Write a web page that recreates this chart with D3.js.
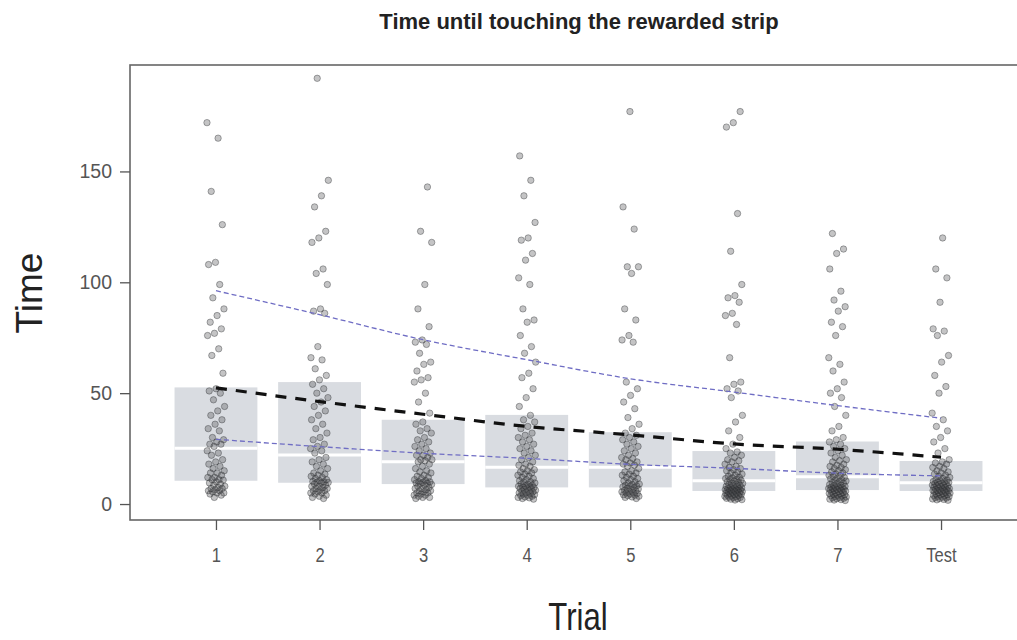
<!DOCTYPE html>
<html>
<head>
<meta charset="utf-8">
<script src="https://cdn.jsdelivr.net/npm/d3@7"></script>
<style>
  body { margin: 0; background: #fff; }
  text { font-family: "Liberation Sans", Arial, sans-serif; }
</style>
</head>
<body>
<script>
// 数据
var trials = ["1", "2", "3", "4", "5", "6", "7", "Test"];

var times_1 = [172, 165, 141, 126, 109, 108, 99, 93, 88, 85, 82, 79, 77, 76, 70, 67, 59,
  52, 51, 50, 47, 44, 42, 40, 38, 36, 34, 33, 30, 29, 28, 27, 27, 26,
  24, 23, 22, 20, 19, 18, 17, 16, 15, 14, 14, 13, 12, 12, 11, 11, 10.8,
  10, 9.5, 9, 8.5, 8, 7.5, 7, 7, 6.5, 6, 6, 5.5, 5, 5, 4.5, 4, 3];
var times_2 = [192, 146, 139, 134, 123, 120, 118, 106, 104, 99, 88, 87, 86, 71, 66, 65, 61, 58, 56,
  54, 52, 50, 48, 46, 44, 42, 40, 38, 36, 34, 32, 30, 29, 27, 26, 25, 24, 23,
  21, 20, 19, 18, 17, 16, 15, 14, 13.5, 13, 12.5, 12, 11.5, 11, 10.5, 10.2, 10, 9.8, 9.7,
  9.5, 9, 8.5, 8, 8, 7.5, 7, 7, 6.5, 6, 6, 5.5, 5, 5, 4.5, 4, 3.5, 3, 2.5];
var times_3 = [143, 123, 118, 99, 88, 80, 74, 73, 72, 68, 64, 63, 60, 57, 56, 55, 50, 46, 41,
  37, 36, 34, 33, 32, 30, 29, 28, 27, 26, 25, 24, 23, 22, 22, 21, 20, 20, 19.5,
  19, 18, 17, 16, 15, 14.5, 14, 13, 12.5, 12, 11.5, 11, 10.5, 10, 10, 9.8, 9.5, 9.3, 9.1,
  8.8, 8.5, 8, 7.5, 7, 7, 6.5, 6, 6, 5.5, 5, 5, 4.5, 4, 4, 3.5, 3, 3, 2.5];
var times_4 = [157, 146, 139, 127, 120, 119, 113, 110, 102, 99, 88, 83, 82, 76, 71, 68, 64, 59, 57, 52, 48, 44,
  40, 38, 37, 35, 34, 32, 31, 30, 29, 28, 27, 26, 25, 24, 23, 22, 21, 20, 19, 18, 17.5, 17,
  16, 15.5, 15, 14.5, 14, 13.5, 13, 12.5, 12, 11.5, 11, 10.5, 10, 10, 9.5, 9, 9, 8.5, 8.2, 8, 7.8, 7.6,
  7.4, 7.2, 7, 6.8, 6.5, 6.2, 6, 5.8, 5.5, 5.2, 5, 4.8, 4.5, 4.2, 4, 3.8, 3.5, 3.2, 3, 2.8, 2.5, 2.2];
var times_5 = [177, 134, 124, 107, 107, 104, 88, 83, 76, 74, 73, 55, 52, 49, 46, 43, 39, 36, 34,
  32, 31, 30, 29, 28, 27, 26, 25, 24, 23, 22, 21, 20.5, 20, 19, 18.5, 18, 17.5, 17,
  16, 15, 14.5, 14, 13.5, 13, 12.5, 12, 11.5, 11, 10.5, 10, 9.5, 9, 8.8, 8.5, 8.2, 8, 7.7,
  7.3, 7, 6.8, 6.5, 6.2, 6, 5.8, 5.5, 5.2, 5, 4.8, 4.5, 4.2, 4, 3.8, 3.5, 3.2, 3, 2.5];
var times_6 = [177, 172, 170, 131, 114, 99, 94, 93, 91, 86, 85, 81, 66, 55, 54, 52, 51, 48, 40, 37, 33, 30, 27, 25,
  23.5, 23, 22, 21, 20, 19.5, 19, 18, 17, 16.5, 16, 15.5, 15, 14.5, 14, 13.5, 13, 12.5, 12, 11.8, 11.5, 11.2, 11, 10.7,
  10.3, 10, 9.8, 9.5, 9.3, 9, 8.8, 8.5, 8.3, 8, 7.8, 7.5, 7.3, 7.1, 7, 6.8, 6.6, 6.5, 6.4, 6.3, 6.2, 6.1, 6, 6,
  5.8, 5.6, 5.5, 5.3, 5.1, 5, 4.8, 4.6, 4.5, 4.3, 4.1, 4, 3.8, 3.6, 3.5, 3.3, 3.1, 3, 2.8, 2.6, 2.4, 2.2, 2, 1.8];
var times_7 = [122, 115, 113, 106, 96, 92, 89, 87, 82, 80, 76, 66, 63, 60, 55, 52, 50, 48, 44, 40, 35, 33, 30, 29,
  28, 27, 26, 25, 24, 23, 22, 21, 20, 19.5, 19, 18, 17.5, 17, 16.5, 16, 15.5, 15, 14.5, 14, 13.5, 13, 12.8, 12.5,
  12, 11.7, 11.4, 11, 10.7, 10.4, 10, 9.7, 9.4, 9.1, 8.8, 8.5, 8.3, 8, 7.8, 7.6, 7.4, 7.2, 7, 6.9, 6.8, 6.6, 6.5, 6.4,
  6.2, 6, 5.8, 5.6, 5.4, 5.2, 5, 4.8, 4.6, 4.4, 4.2, 4, 3.8, 3.6, 3.4, 3.2, 3, 2.8, 2.6, 2.4, 2.2, 2, 1.8, 1.6];
var times_test = [120, 106, 102, 91, 79, 78, 76, 67, 64, 58, 53, 50, 41, 38, 35, 33, 30, 28, 25, 23, 20,
  19, 18.5, 18, 17, 16.5, 16, 15, 14.5, 14, 13.5, 13, 12.5, 12, 11.5, 11, 10.8, 10.5, 10.2, 10, 9.8, 9.7,
  9.4, 9.2, 9, 8.8, 8.6, 8.4, 8.2, 8, 7.8, 7.6, 7.4, 7.2, 7, 6.8, 6.6, 6.4, 6.2, 6.1, 6, 6, 5.9,
  5.7, 5.5, 5.3, 5.1, 4.9, 4.7, 4.5, 4.3, 4.1, 3.9, 3.7, 3.5, 3.3, 3.1, 2.9, 2.7, 2.5, 2.3, 2.1, 1.9, 1.7];
var times = [times_1, times_2, times_3, times_4, times_5, times_6, times_7, times_test];

// 四分位框
var box_q1 = [10.5, 9.6, 9.0, 7.5, 7.5, 5.9, 6.3, 5.9];
var box_median = [25.2, 22.1, 19.1, 16.6, 16.6, 10.5, 12.3, 9.6];
var box_q3 = [52.6, 55.0, 38.0, 40.2, 32.4, 23.9, 28.2, 19.4];

// 拟合线
var fit_mean = [52.4, 46.2, 40.5, 35.0, 31.2, 27.1, 24.7, 21.1];
var fit_upper = [96.2, 85.4, 74.1, 65.1, 56.5, 50.5, 44.4, 38.7];
var fit_lower = [29.2, 25.9, 22.9, 20.6, 17.9, 16.1, 13.9, 12.7];

var y_ticks = [0, 50, 100, 150];

// 常量定义
var svg_width = 1017;
var svg_height = 640;
var plot_left = 130, plot_right = 1027, plot_top = 65, plot_bottom = 520;

var svg = d3.select("body").append("svg")
  .attr("width", svg_width).attr("height", svg_height);

var x = d3.scalePoint().domain(trials).range([plot_left, plot_right]).padding(0.83);
var step = x.step();
var y = d3.scaleLinear().domain([-7.2, 198]).range([plot_bottom, plot_top]);

// 四分位框
var boxes = svg.append("g");
trials.forEach(function(t, i) {
  boxes.append("rect")
    .attr("x", x(t) - step * 0.4).attr("width", step * 0.8)
    .attr("y", y(box_q3[i])).attr("height", y(box_q1[i]) - y(box_q3[i]))
    .attr("fill", "#d9dce1");
  boxes.append("line")
    .attr("x1", x(t) - step * 0.4).attr("x2", x(t) + step * 0.4)
    .attr("y1", y(box_median[i])).attr("y2", y(box_median[i]))
    .attr("stroke", "#fff").attr("stroke-width", 3);
});

// 散点 (deterministic jitter)
var pts = svg.append("g");
trials.forEach(function(t, i) {
  pts.selectAll(null)
    .data(times[i])
    .enter()
    .append("circle")
    .attr("cx", function(d, j) { return x(t) + (((j * 0.6180339 + i * 0.37) % 1) - 0.5) * 18; })
    .attr("cy", function(d) { return y(d); })
    .attr("r", 3.2)
    .attr("fill", "rgba(70,72,76,0.32)")
    .attr("stroke", "rgba(40,42,46,0.42)")
    .attr("stroke-width", 0.9);
});

// 拟合线
var line = function(vals) {
  return d3.line()
    .x(function(d, i) { return x(trials[i]); })
    .y(function(d) { return y(d); })
    .curve(d3.curveMonotoneX)(vals);
};
svg.append("path").attr("d", line(fit_upper))
  .attr("fill", "none").attr("stroke", "#6f6dc4").attr("stroke-width", 1.3).attr("stroke-dasharray", "5,3");
svg.append("path").attr("d", line(fit_lower))
  .attr("fill", "none").attr("stroke", "#6f6dc4").attr("stroke-width", 1.3).attr("stroke-dasharray", "5,3");
svg.append("path").attr("d", line(fit_mean))
  .attr("fill", "none").attr("stroke", "#111").attr("stroke-width", 3.2).attr("stroke-dasharray", "11,9");

// 绘图框
svg.append("rect")
  .attr("x", plot_left).attr("y", plot_top)
  .attr("width", plot_right - plot_left).attr("height", plot_bottom - plot_top)
  .attr("fill", "none").attr("stroke", "#666").attr("stroke-width", 1.6);

// 数轴
var yaxis = svg.append("g").attr("transform", "translate(" + plot_left + ",0)")
  .call(d3.axisLeft(y).tickValues(y_ticks).tickSize(10).tickPadding(8));
var xaxis = svg.append("g").attr("transform", "translate(0," + plot_bottom + ")")
  .call(d3.axisBottom(x).tickSize(10).tickPadding(18));
[yaxis, xaxis].forEach(function(a) {
  a.select(".domain").remove();
  a.selectAll(".tick line").attr("stroke", "#555").attr("stroke-width", 1.3);
  a.selectAll(".tick text").attr("fill", "#555").attr("font-size", 19.5)
    .attr("font-family", "'Liberation Sans', Arial, sans-serif");
});
xaxis.selectAll(".tick text").attr("transform", "scale(0.85,1)");

// 标题
svg.append("text").attr("x", 579).attr("y", 29).attr("text-anchor", "middle")
  .attr("font-size", 22).attr("font-weight", "bold").attr("fill", "#222")
  .text("Time until touching the rewarded strip");
svg.append("text").attr("transform", "translate(42,293) rotate(-90)")
  .attr("text-anchor", "middle").attr("font-size", 37).attr("fill", "#222")
  .text("Time");
svg.append("text").attr("transform", "translate(578,630) scale(0.82,1)")
  .attr("text-anchor", "middle").attr("font-size", 38).attr("fill", "#222")
  .text("Trial");
</script>
</body>
</html>
